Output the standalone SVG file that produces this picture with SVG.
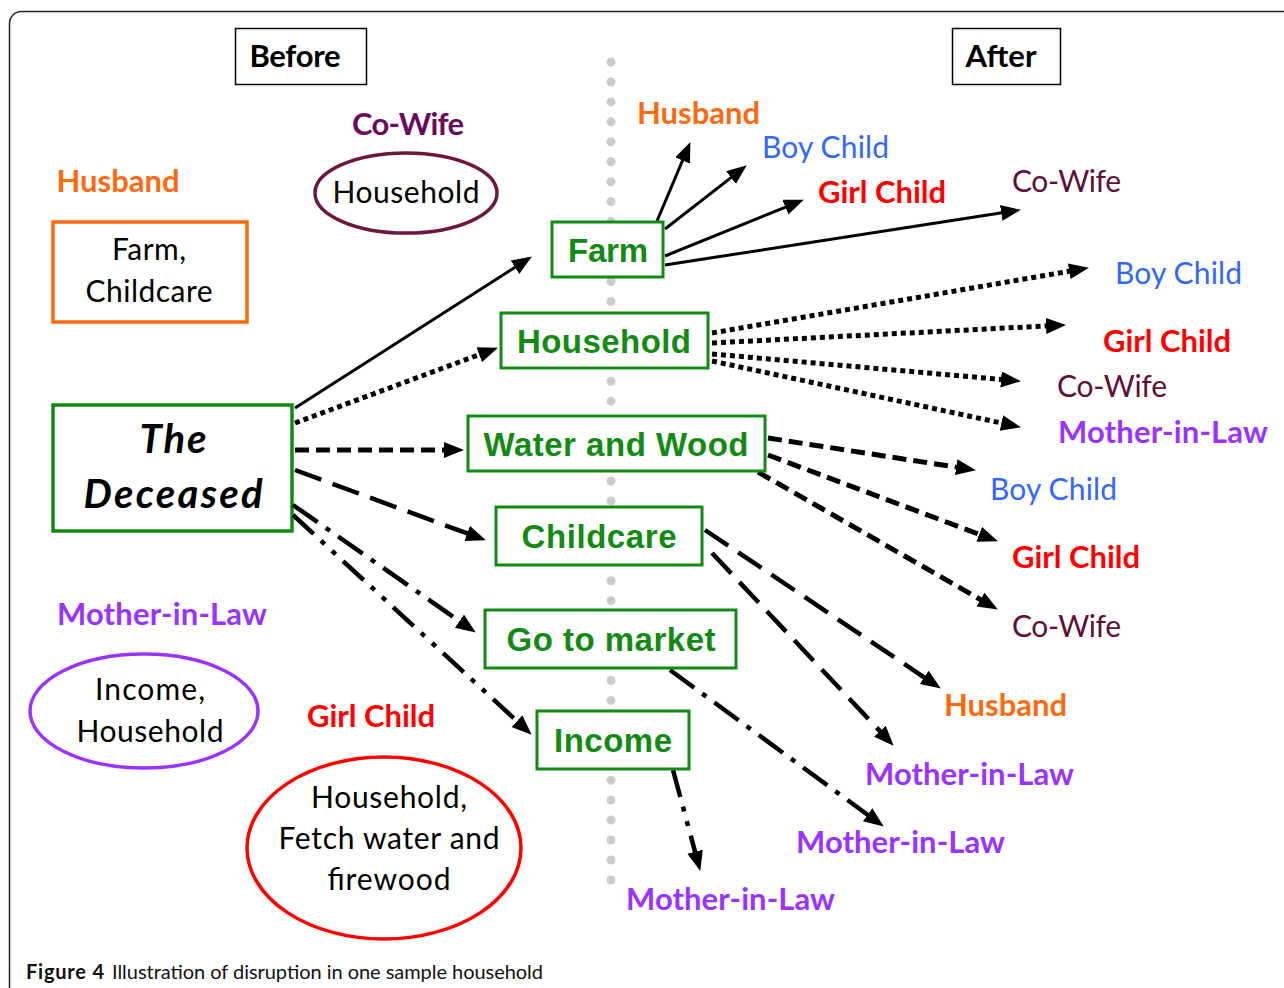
<svg xmlns="http://www.w3.org/2000/svg" width="1284" height="988" viewBox="0 0 1284 988">
<style>
.lbl{font-family:Lato,"Open Sans",sans-serif;font-weight:bold;font-size:31px}
.reg{font-family:Lato,"Open Sans",sans-serif;font-size:30px;fill:#000}
.gt{font-family:"Liberation Sans",Arial,sans-serif;font-weight:bold;font-size:33px;fill:#138a13;text-anchor:middle}
.gb{fill:#fff;stroke:#138a13;stroke-width:3}
.c{fill:none;stroke:#000;stroke-width:4.5}
.solid{stroke-width:3}
.dot{stroke-dasharray:5 4;stroke-width:5}
.dash{stroke-dasharray:14 7;stroke-width:5}
.ldash{stroke-dasharray:28 12}
.dd{stroke-dasharray:30 10 5 10}
.ddd{stroke-dasharray:28 10 5 10 5 10}
.or{fill:#fb6a0e}.bl{fill:#3366ff}.rd{fill:#ff0000}.pu{fill:#9933ff}.cw{fill:#5e1038}
</style>
<defs>
<marker id="ah" markerUnits="userSpaceOnUse" markerWidth="22" markerHeight="18" refX="9" refY="8" orient="auto">
<path d="M0,0 L20,8 L0,16 z" fill="#000"/>
</marker>
</defs>
<rect x="9.5" y="11.5" width="1320" height="1020" rx="12" fill="#fff" stroke="#222" stroke-width="1.5"/>
<line x1="611" y1="62" x2="611" y2="880" stroke="#cccccc" stroke-width="9" stroke-linecap="round" stroke-dasharray="0 19.95"/>
<g id="before">
<rect x="235.5" y="28.5" width="131" height="56" fill="#fff" stroke="#000" stroke-width="1.5"/>
<text x="295" y="67" class="lbl" fill="#000" text-anchor="middle" textLength="91">Before</text>
</g>
<g id="after">
<rect x="952.5" y="28.5" width="108" height="56" fill="#fff" stroke="#000" stroke-width="1.5"/>
<text x="1001" y="67" class="lbl" fill="#000" text-anchor="middle" textLength="71">After</text>
</g>
<g id="husband-before">
<text x="118" y="192" class="lbl or" text-anchor="middle" textLength="123">Husband</text>
<rect x="53" y="222" width="194" height="100" fill="#fff" stroke="#fb6a0e" stroke-width="3.5"/>
<text x="149" y="260" class="reg" text-anchor="middle" textLength="74">Farm,</text>
<text x="149" y="302" class="reg" text-anchor="middle" textLength="127">Childcare</text>
</g>
<g id="cowife-before">
<text x="408" y="135" class="lbl" fill="#6a0a5e" text-anchor="middle" textLength="112">Co-Wife</text>
<ellipse cx="406" cy="193" rx="91" ry="40" fill="#fff" stroke="#6b1740" stroke-width="3.5"/>
<text x="406" y="203" class="reg" text-anchor="middle" textLength="147">Household</text>
</g>
<g id="deceased">
<rect x="53" y="405" width="239" height="126" fill="#fff" stroke="#138a13" stroke-width="3.5"/>
<text x="173" y="453" font-family="Lato,'Open Sans',sans-serif" font-weight="bold" font-style="italic" font-size="40" text-anchor="middle" textLength="67">The</text>
<text x="173" y="508" font-family="Lato,'Open Sans',sans-serif" font-weight="bold" font-style="italic" font-size="40" text-anchor="middle" textLength="179">Deceased</text>
</g>
<g id="mil-before">
<text x="162" y="625" class="lbl pu" text-anchor="middle" textLength="210">Mother-in-Law</text>
<ellipse cx="144" cy="711" rx="114" ry="57" fill="#fff" stroke="#9933ff" stroke-width="3.5"/>
<text x="150" y="700" class="reg" text-anchor="middle" textLength="110">Income,</text>
<text x="150" y="742" class="reg" text-anchor="middle" textLength="147">Household</text>
</g>
<g id="girl-before">
<text x="371" y="727" class="lbl rd" text-anchor="middle" textLength="128">Girl Child</text>
<ellipse cx="384" cy="848" rx="137" ry="91" fill="#fff" stroke="#ff0000" stroke-width="3.5"/>
<text x="389" y="808" class="reg" text-anchor="middle" textLength="156">Household,</text>
<text x="389" y="849" class="reg" text-anchor="middle" textLength="221">Fetch water and</text>
<text x="389" y="890" class="reg" text-anchor="middle" textLength="123">firewood</text>
</g>
<g id="connectors">
<path class="c solid" d="M295,408 L522.6,262.4" marker-end="url(#ah)"/>
<path class="c dot" d="M295,423 L487.6,351.5" marker-end="url(#ah)"/>
<path class="c dash" d="M295,450 L453,450" marker-end="url(#ah)"/>
<path class="c ldash" d="M295,470 L475.6,536.5" marker-end="url(#ah)"/>
<path class="c dd" d="M293,505 L466.8,626.3" marker-end="url(#ah)"/>
<path class="c ddd" d="M293,515 L523.6,727.2" marker-end="url(#ah)"/>
<path class="c solid" d="M657,221 L686.1,152.2" marker-end="url(#ah)"/>
<path class="c solid" d="M665,229 L738.1,172.1" marker-end="url(#ah)"/>
<path class="c solid" d="M665,256 L793.7,203.8" marker-end="url(#ah)"/>
<path class="c solid" d="M665,265 L1010.1,211.5" marker-end="url(#ah)"/>
<path class="c dot" d="M712,333 L1078.1,269.7" marker-end="url(#ah)"/>
<path class="c dot" d="M712,343 L1055,325.5" marker-end="url(#ah)"/>
<path class="c dot" d="M712,354 L1010,380.2" marker-end="url(#ah)"/>
<path class="c dot" d="M712,361 L1010.2,424.9" marker-end="url(#ah)"/>
<path class="c dash" d="M768,438 L965.1,468.5" marker-end="url(#ah)"/>
<path class="c dash" d="M768,455 L987.6,537.5" marker-end="url(#ah)"/>
<path class="c dash" d="M758,472 L988.3,604" marker-end="url(#ah)"/>
<path class="c ldash" d="M705,530 L931.7,682.4" marker-end="url(#ah)"/>
<path class="c ldash" d="M712,553 L886.1,737.7" marker-end="url(#ah)"/>
<path class="c dd" d="M670,670 L874.9,820.1" marker-end="url(#ah)"/>
<path class="c ddd" d="M673,770 L697.4,860.4" marker-end="url(#ah)"/>
</g>
<g id="farm"><rect class="gb" x="552" y="222" width="111" height="55"/><text class="gt" x="608" y="262" textLength="80">Farm</text></g>
<g id="household"><rect class="gb" x="501" y="313" width="207" height="55"/><text class="gt" x="604" y="353" textLength="174">Household</text></g>
<g id="water"><rect class="gb" x="468" y="416" width="297" height="55"/><text class="gt" x="616" y="456" textLength="265">Water and Wood</text></g>
<g id="childcare"><rect class="gb" x="496" y="507" width="206" height="58"/><text class="gt" x="599" y="548" textLength="155">Childcare</text></g>
<g id="market"><rect class="gb" x="485" y="610" width="251" height="58"/><text class="gt" x="611" y="651" textLength="209">Go to market</text></g>
<g id="income"><rect class="gb" x="537" y="711" width="152" height="58"/><text class="gt" x="613" y="752" textLength="118">Income</text></g>
<g id="after-labels">
<text x="637" y="124" class="lbl or" textLength="123">Husband</text>
<text x="762" y="158" class="reg bl" textLength="127">Boy Child</text>
<text x="818" y="203" class="lbl rd" textLength="128">Girl Child</text>
<text x="1012" y="192" class="reg cw" textLength="109">Co-Wife</text>
<text x="1115" y="284" class="reg bl" textLength="127">Boy Child</text>
<text x="1103" y="352" class="lbl rd" textLength="128">Girl Child</text>
<text x="1057" y="397" class="reg cw" textLength="110">Co-Wife</text>
<text x="1058" y="443" class="lbl pu" textLength="210">Mother-in-Law</text>
<text x="990" y="500" class="reg bl" textLength="127">Boy Child</text>
<text x="1012" y="568" class="lbl rd" textLength="128">Girl Child</text>
<text x="1012" y="637" class="reg cw" textLength="109">Co-Wife</text>
<text x="944" y="716" class="lbl or" textLength="123">Husband</text>
<text x="865" y="785" class="lbl pu" textLength="209">Mother-in-Law</text>
<text x="796" y="853" class="lbl pu" textLength="209">Mother-in-Law</text>
<text x="626" y="910" class="lbl pu" textLength="209">Mother-in-Law</text>
</g>
<g id="caption" font-family="Lato,'Open Sans',sans-serif" font-size="20" fill="#111">
<text x="26" y="979" font-weight="bold" textLength="78">Figure 4</text>
<text x="112" y="979" textLength="431">Illustration of disruption in one sample household</text>
</g>
</svg>
